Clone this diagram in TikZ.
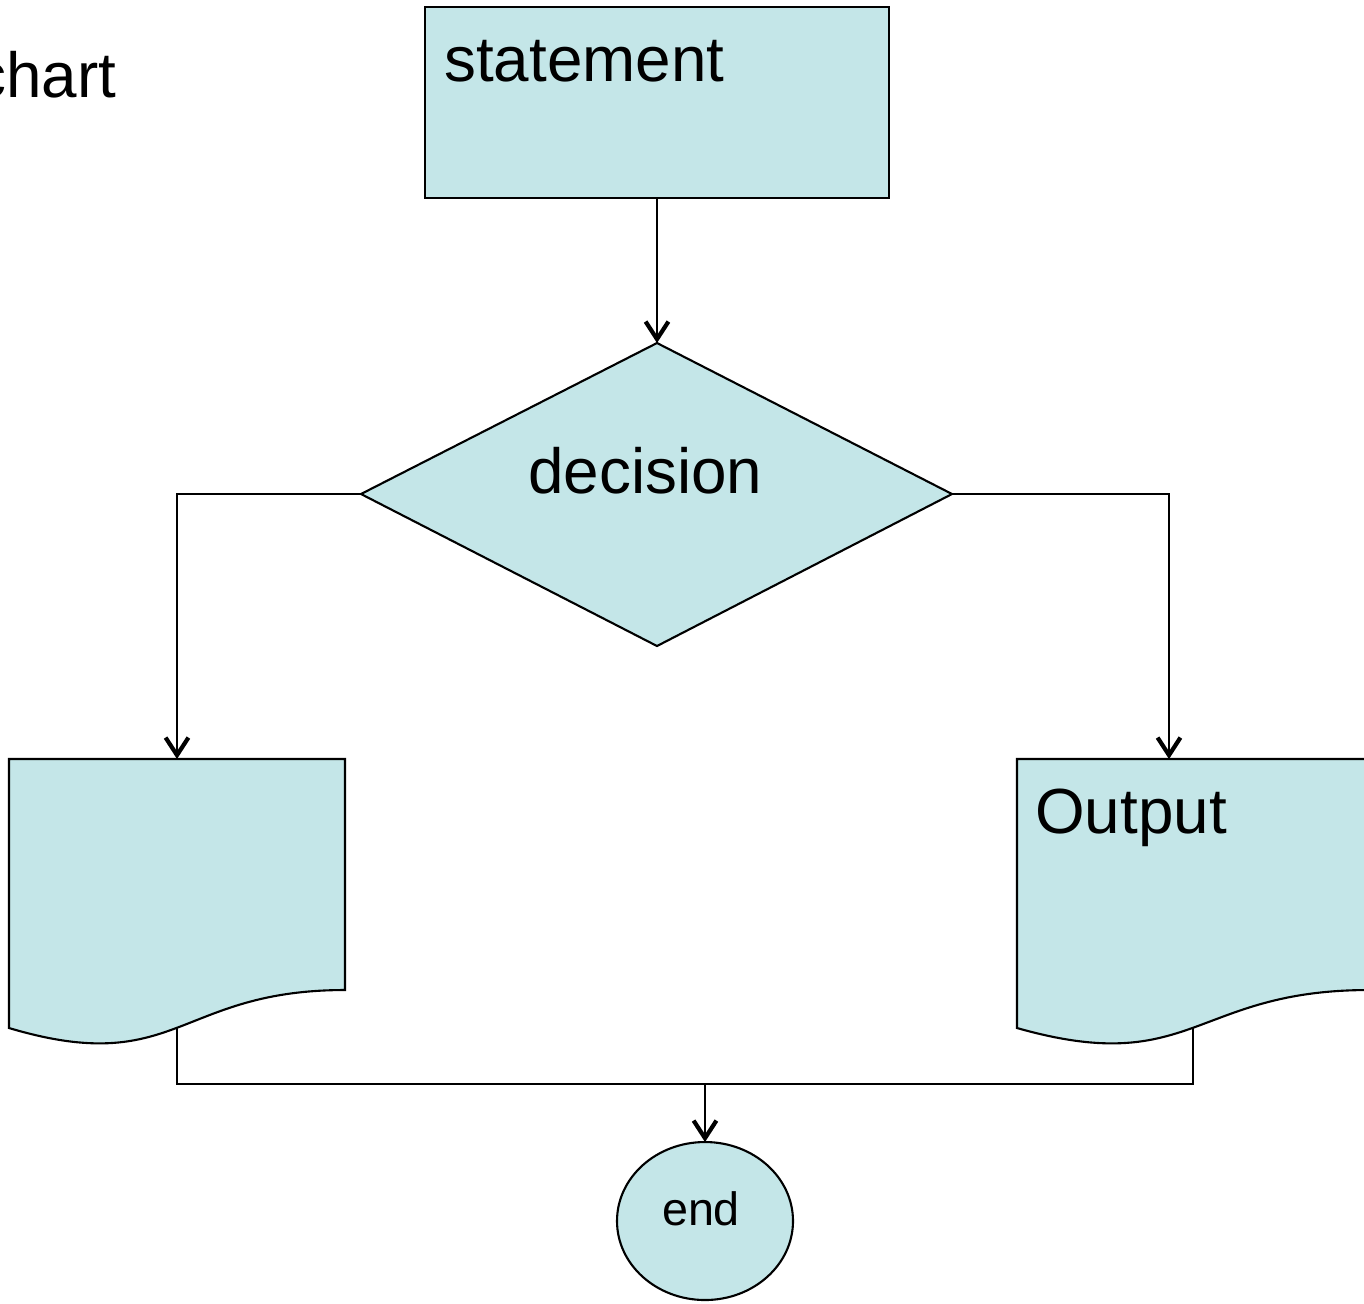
\documentclass[tikz,border=0pt]{standalone}
\usepackage{fontspec}
\setmainfont{Liberation Sans}
\usetikzlibrary{arrows.meta}
\definecolor{boxfill}{RGB}{196,230,232}
\begin{document}
\begin{tikzpicture}[x=0.02cm,y=-0.02cm,
  shapeline/.style={draw=black,line width=1.2pt,fill=boxfill,line join=miter},
  conn/.style={draw=black,line width=1.3pt},
  arr/.style={conn,-{Straight Barb[length=10pt,width=13pt,line width=2.4pt]}},
  lbl/.style={anchor=base west,inner sep=0pt,font=\fontsize{36.3}{40}\selectfont},
  smalllbl/.style={anchor=base,inner sep=0pt,font=\fontsize{26.6}{30}\selectfont}]
\useasboundingbox (0,0) rectangle (1364,1303);
\fill[white] (0,0) rectangle (1364,1303);
% coordinates
\coordinate (stB) at (657,198);
\coordinate (dT) at (657,343);
\coordinate (dR) at (952,494);
\coordinate (dB) at (657,646);
\coordinate (dL) at (361,494);
\coordinate (lT) at (177,759);
\coordinate (rT) at (1169,759);
\coordinate (lB) at (177,1028);
\coordinate (rB) at (1193,1028);
\coordinate (jl) at (177,1084);
\coordinate (jr) at (1193,1084);
\coordinate (jm) at (705,1084);
\coordinate (eT) at (705,1142);
% shapes
\path[shapeline] (425,7) rectangle (889,198);
\path[shapeline] (dT) -- (dR) -- (dB) -- (dL) -- cycle;
\path[shapeline] (9,759) -- (345,759) -- (345,990) .. controls (177,990) and (177,1078) .. (9,1028) -- cycle;
\path[shapeline] (1017,759) -- (1369,759) -- (1369,990) .. controls (1193,990) and (1193,1078) .. (1017,1028) -- cycle;
\path[shapeline] (705,1221) ellipse [x radius=88, y radius=79];
% connectors
\draw[arr] (stB) -- (dT);
\draw[arr] (dL) -| (lT);
\draw[arr] (dR) -| (rT);
\draw[conn] (lB) -- (jl) -- (jr) -- (rB);
\draw[arr] (jm) -- (eT);
% texts
\node[lbl] (tchart) at (-26,97) {chart};
\node[lbl] (tstatement) at (444,81) {statement};
\node[lbl] (tdecision) at (528,493) {decision};
\node[lbl] (toutput) at (1035,833) {Output};
\node[smalllbl] (tend) at (701,1225) {end};
\end{tikzpicture}
\end{document}
